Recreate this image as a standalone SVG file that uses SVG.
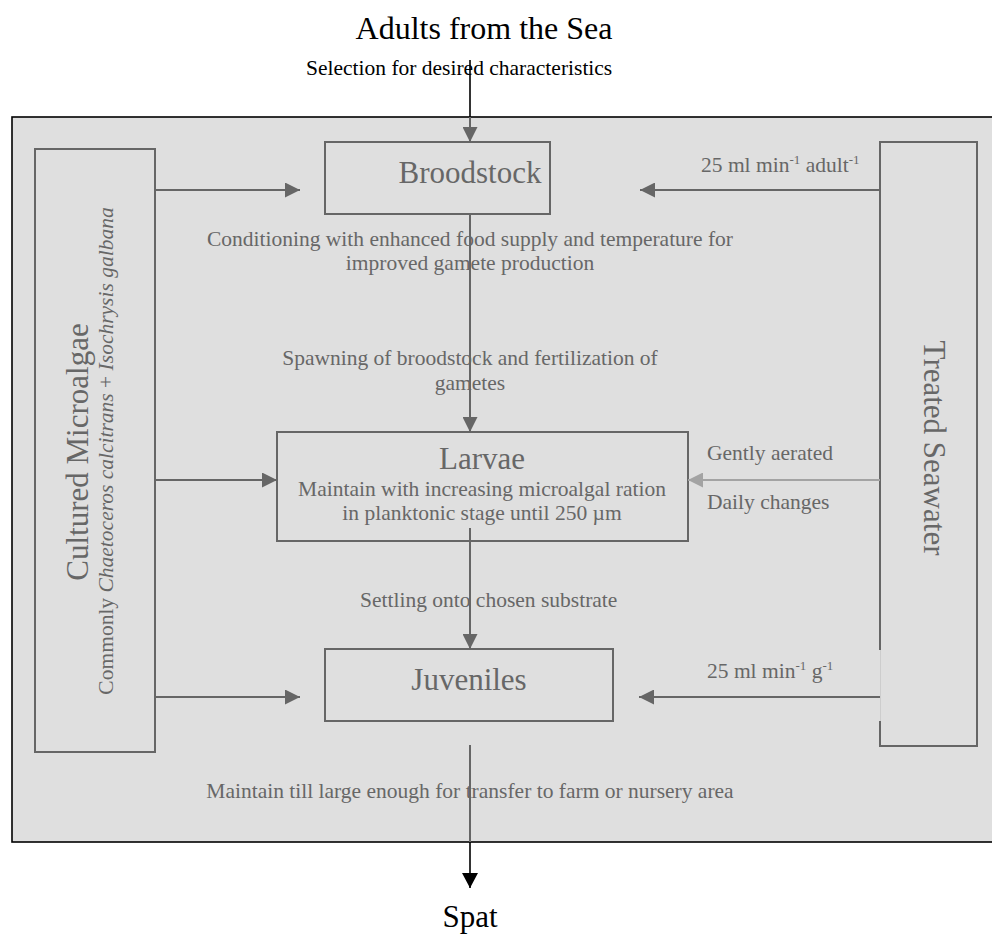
<svg xmlns="http://www.w3.org/2000/svg" width="992" height="935" viewBox="0 0 992 935">
<style>
text{font-family:"Liberation Serif","Times New Roman",serif;}
.t{fill:#676767;font-size:21.5px;}
.big{fill:#676767;font-size:31px;}
.blk{fill:#000;}
.box{fill:#dfdfdf;stroke:#666;stroke-width:2;}
.ln{stroke:#666;stroke-width:2;fill:none;}
.lt{stroke:#a3a3a3;stroke-width:2;fill:none;}
.bk{stroke:#000;stroke-width:1.6;fill:none;}
.it{font-style:italic;}
</style>
<defs>
<marker id="ag" markerUnits="userSpaceOnUse" markerWidth="15" markerHeight="15" refX="15" refY="7.5" orient="auto"><path d="M0,0 L15,7.5 L0,15 z" fill="#666"/></marker>
<marker id="al" markerUnits="userSpaceOnUse" markerWidth="15" markerHeight="15" refX="15" refY="7.5" orient="auto"><path d="M0,0 L15,7.5 L0,15 z" fill="#a3a3a3"/></marker>
<marker id="ab" markerUnits="userSpaceOnUse" markerWidth="15" markerHeight="16" refX="15" refY="8" orient="auto"><path d="M0,0 L15,8 L0,16 z" fill="#000"/></marker>
</defs>
<rect width="992" height="935" fill="#fff"/>
<g id="frame"><rect x="12" y="117" width="990" height="725" fill="#dfdfdf" stroke="#000" stroke-width="1.6"/></g>
<g id="title"><text class="blk" x="484" y="39" font-size="32" text-anchor="middle">Adults from the Sea</text>
<text class="blk" x="306" y="75" font-size="21.5">Selection for desired characteristics</text></g>
<g id="spat"><text class="blk" x="470" y="927" font-size="31" text-anchor="middle">Spat</text></g>
<g id="microalgae"><rect class="box" x="35" y="149" width="120" height="603"/>
<text class="big" transform="translate(88,452) rotate(-90)" text-anchor="middle" font-size="32">Cultured Microalgae</text>
<text class="t" transform="translate(113,451) rotate(-90)" text-anchor="middle">Commonly <tspan class="it">Chaetoceros calcitrans</tspan> + <tspan class="it">Isochrysis galbana</tspan></text></g>
<g id="seawater"><rect class="box" x="880" y="142" width="97" height="604"/>
<line x1="880" y1="650" x2="880" y2="721" stroke="#dfdfdf" stroke-width="3"/>
<line x1="880.5" y1="650" x2="880.5" y2="721" stroke="#cdcdcd" stroke-width="1"/>
<text class="big" transform="translate(924,448) rotate(90)" text-anchor="middle" font-size="33">Treated Seawater</text></g>
<g id="broodstock"><rect class="box" x="325" y="142" width="225" height="72"/>
<text class="big" x="470" y="183" text-anchor="middle">Broodstock</text></g>
<g id="larvae"><rect class="box" x="277" y="432" width="411" height="109"/>
<text class="big" x="482" y="469" text-anchor="middle">Larvae</text>
<text class="t" x="482" y="496" text-anchor="middle">Maintain with increasing microalgal ration</text>
<text class="t" x="482" y="520" text-anchor="middle">in planktonic stage until 250 µm</text></g>
<g id="juveniles"><rect class="box" x="325" y="649" width="288" height="72"/>
<text class="big" x="469" y="690" text-anchor="middle">Juveniles</text></g>
<g id="connectors">
<line class="bk" x1="470" y1="60" x2="470" y2="117"/>
<line class="ln" x1="470" y1="117" x2="470" y2="142" marker-end="url(#ag)"/>
<line class="ln" x1="470" y1="214" x2="470" y2="432" marker-end="url(#ag)"/>
<line class="ln" x1="470" y1="528" x2="470" y2="649" marker-end="url(#ag)"/>
<line class="ln" x1="470" y1="745" x2="470" y2="842"/>
<line class="bk" x1="470" y1="842" x2="470" y2="888" marker-end="url(#ab)"/>
<line class="ln" x1="155" y1="190" x2="300" y2="190" marker-end="url(#ag)"/>
<line class="ln" x1="155" y1="480" x2="277" y2="480" marker-end="url(#ag)"/>
<line class="ln" x1="155" y1="697" x2="300" y2="697" marker-end="url(#ag)"/>
<line class="ln" x1="880" y1="190" x2="640" y2="190" marker-end="url(#ag)"/>
<line class="lt" x1="880" y1="480" x2="688" y2="480" marker-end="url(#al)"/>
<line class="ln" x1="880" y1="697" x2="639" y2="697" marker-end="url(#ag)"/>
</g>
<g id="labels">
<text class="t" x="470" y="246" text-anchor="middle">Conditioning with enhanced food supply and temperature for</text>
<text class="t" x="470" y="270" text-anchor="middle">improved gamete production</text>
<text class="t" x="470" y="365" text-anchor="middle">Spawning of broodstock and fertilization of</text>
<text class="t" x="470" y="390" text-anchor="middle">gametes</text>
<text class="t" x="360" y="607">Settling onto chosen substrate</text>
<text class="t" x="470" y="798" text-anchor="middle">Maintain till large enough for transfer to farm or nursery area</text>
<text class="t" x="701" y="172">25 ml min<tspan font-size="13" dy="-8">-1</tspan><tspan dy="8"> adult</tspan><tspan font-size="13" dy="-8">-1</tspan></text>
<text class="t" x="707" y="460">Gently aerated</text>
<text class="t" x="707" y="509">Daily changes</text>
<text class="t" x="707" y="678">25 ml min<tspan font-size="13" dy="-8">-1</tspan><tspan dy="8"> g</tspan><tspan font-size="13" dy="-8">-1</tspan></text>
</g>
</svg>
